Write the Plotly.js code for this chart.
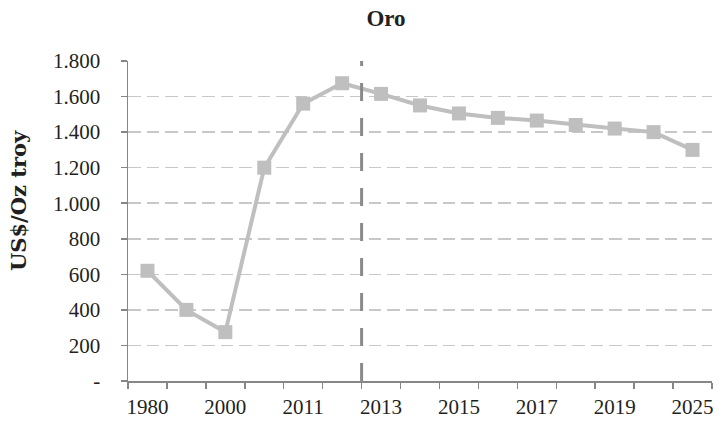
<!DOCTYPE html>
<html><head><meta charset="utf-8">
<script src="https://cdn.plot.ly/plotly-3.0.1.min.js"></script>
<style>html,body{margin:0;padding:0;background:#fff}#c{width:719px;height:428px}</style>
</head><body><div id="c"></div>
<script>
const years = ["1980","1990","2000","2010","2011","2012","2013","2014","2015","2016","2017","2018","2019","2020","2025"];
const xLabels = ["1980","","2000","","2011","","2013","","2015","","2017","","2019","","2025"];
const prices = [620, 400, 275, 1200, 1560, 1675, 1615, 1550, 1505, 1480, 1465, 1440, 1420, 1400, 1300];
const yTickVals = [0,200,400,600,800,1000,1200,1400,1600,1800];
const yTickText = ["-","200","400","600","800","1.000","1.200","1.400","1.600","1.800"];
const forecastStart = 5.5;

const serif = "Liberation Serif, Times New Roman, serif";
const txt = '#231f20';
Plotly.newPlot('c', [{
  x: years, y: prices, type: 'scatter', mode: 'lines+markers',
  line: {color: '#bfbfbf', width: 4},
  marker: {symbol: 'square', size: 14, color: '#bfbfbf'},
  cliponaxis: false, hoverinfo: 'none'
}], {
  width: 719, height: 428,
  margin: {l: 128, r: 7, t: 61, b: 47},
  paper_bgcolor: '#fff', plot_bgcolor: '#fff',
  showlegend: false,
  font: {family: serif, size: 21, color: txt},
  title: {text: '<b>Oro</b>', xref: 'container', x: 386/719, xanchor: 'center', yref: 'container', y: 1 - 18/428, yanchor: 'middle', font: {family: serif, size: 23, color: txt}},
  xaxis: {
    type: 'category', tickvals: years, ticktext: xLabels, tickangle: 0,
    tickson: 'boundaries', ticks: 'outside', ticklen: 6, tickwidth: 1.5, tickcolor: '#868686', ticklabelstandoff: 6,
    showline: true, linecolor: '#868686', linewidth: 1.5, showgrid: false, zeroline: false,
    tickfont: {family: serif, size: 21, color: txt}, range: [-0.5, 14.5], automargin: false
  },
  yaxis: {
    range: [0, 1800], tickvals: yTickVals, ticktext: yTickText,
    ticks: 'outside', ticklen: 6, tickwidth: 1.5, tickcolor: '#868686', ticklabelstandoff: 16,
    showline: true, linecolor: '#868686', linewidth: 1.5,
    showgrid: true, gridcolor: '#c8c8c8', gridwidth: 1.6, griddash: '12.5px,6px', zeroline: false,
    tickfont: {family: serif, size: 21, color: txt}, automargin: false
  },
  annotations: [{
    text: '<b>US$/Oz troy</b>', textangle: -90, showarrow: false,
    xref: 'paper', yref: 'paper', x: (18 - 128) / 584, y: (381 - 201) / 320,
    xanchor: 'center', yanchor: 'middle',
    font: {family: 'DejaVu Serif, serif', size: 21, color: txt}
  }],
  shapes: [{type: 'line', xref: 'x', yref: 'paper', x0: forecastStart, x1: forecastStart, y0: 0, y1: 1,
    line: {color: '#8a8a8a', width: 3, dash: '18px,17px'}}]
}, {staticPlot: true, displayModeBar: false});
</script></body></html>
